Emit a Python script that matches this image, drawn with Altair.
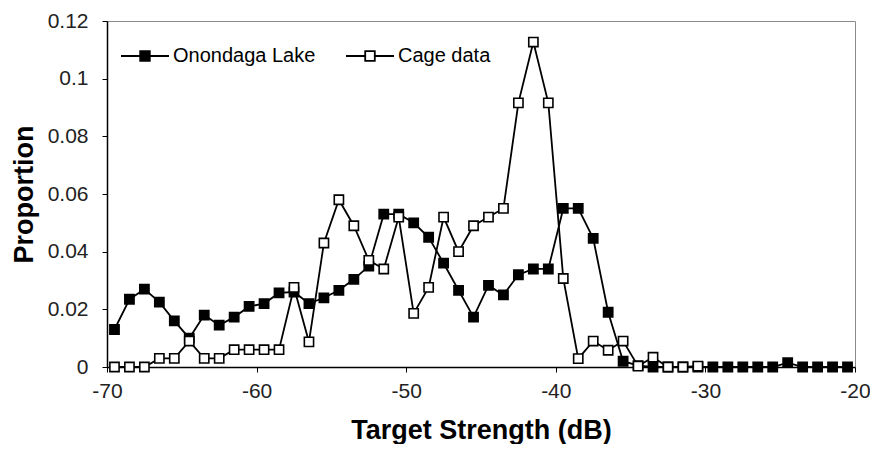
import altair as alt
import pandas as pd

# Bin centres (dB)
ts = [-69.5, -68.5, -67.5, -66.5, -65.5, -64.5, -63.5, -62.5, -61.5, -60.5,
      -59.5, -58.5, -57.5, -56.5, -55.5, -54.5, -53.5, -52.5, -51.5, -50.5,
      -49.5, -48.5, -47.5, -46.5, -45.5, -44.5, -43.5, -42.5, -41.5, -40.5,
      -39.5, -38.5, -37.5, -36.5, -35.5, -34.5, -33.5, -32.5, -31.5, -30.5,
      -29.5, -28.5, -27.5, -26.5, -25.5, -24.5, -23.5, -22.5, -21.5, -20.5]

onondaga = [0.013, 0.0235, 0.027, 0.0225, 0.016, 0.010, 0.018, 0.0145, 0.0173, 0.021,
            0.022, 0.0257, 0.026, 0.022, 0.024, 0.0266, 0.0304, 0.035, 0.053, 0.053,
            0.050, 0.045, 0.036, 0.0266, 0.0173, 0.0283, 0.025, 0.032, 0.034, 0.034,
            0.055, 0.055, 0.0446, 0.019, 0.002, 0.0005, 0.0, 0.0, 0.0, 0.0,
            0.0, 0.0, 0.0, 0.0, 0.0, 0.0015, 0.0, 0.0, 0.0, 0.0]

cage = [0.0, 0.0, 0.0, 0.003, 0.003, 0.009, 0.003, 0.003, 0.006, 0.006,
        0.006, 0.006, 0.0276, 0.0087, 0.043, 0.058, 0.049, 0.037, 0.034, 0.052,
        0.0186, 0.0276, 0.052, 0.040, 0.049, 0.052, 0.055, 0.0916, 0.1127, 0.0916,
        0.0307, 0.0029, 0.009, 0.0058, 0.009, 0.0003, 0.0034, 0.0, 0.0, 0.0003]

series_names = ["Onondaga Lake", "Cage data"]
series_fill = ["black", "white"]

rows = []
for i, v in enumerate(onondaga):
    rows.append({"ts": ts[i], "p": v, "series": series_names[0], "order": i})
for i, v in enumerate(cage):
    rows.append({"ts": ts[i], "p": v, "series": series_names[1], "order": i})
df = pd.DataFrame(rows)

x_enc = alt.X("ts:Q", scale=alt.Scale(domain=[-70, -20], nice=False),
              axis=alt.Axis(title="Target Strength (dB)", values=[-70, -60, -50, -40, -30, -20],
                            labelExpr="'' + datum.value", labelPadding=8, titlePadding=16,
                            labelFlush=False))
y_enc = alt.Y("p:Q", scale=alt.Scale(domain=[0, 0.12], nice=False),
              axis=alt.Axis(title="Proportion", values=[0, 0.02, 0.04, 0.06, 0.08, 0.1, 0.12],
                            format=".2~f", labelPadding=14, titlePadding=9))

fill_scale = alt.Scale(domain=series_names, range=series_fill)

legend_symbol = ("M-1,0L-0.2,0M0.2,0L1,0"
                 "M-0.2,-0.2L0.2,-0.2L0.2,0.2L-0.2,0.2Z")

legend = alt.Legend(
    title=None, orient="none", legendX=13, legendY=10, direction="horizontal",
    symbolType=legend_symbol, symbolSize=2304, symbolStrokeWidth=1.8,
    symbolStrokeColor="black", labelFontSize=20, labelFont="Liberation Sans",
    labelColor="black", labelOffset=3, columnPadding=26, padding=0, symbolOpacity=1,
)

base = alt.Chart(df)

layers = []
for idx, name in enumerate(series_names):
    sub = base.transform_filter(alt.datum.series == name)
    line = sub.mark_line(color="black", strokeWidth=1.8).encode(
        x=x_enc, y=y_enc, order="order:Q")
    pts = sub.mark_point(shape="square", filled=True, size=85, stroke="black",
                         strokeWidth=1.6, opacity=1).encode(
        x=x_enc, y=y_enc, fill=alt.value(series_fill[idx]))
    layers += [line, pts]

# Legend-only layer (no rows drawn) so the legend can use a line+square symbol
legend_layer = base.transform_filter("datum.p < 0").mark_point(
    filled=True, stroke="black", strokeWidth=1.8, opacity=1).encode(
    x=x_enc, y=y_enc,
    fill=alt.Fill("series:N", scale=fill_scale, legend=legend))
layers.append(legend_layer)

chart = alt.layer(*layers).properties(
    width=748, height=346,
    padding={"left": 99, "top": 13, "right": 15, "bottom": 77},
    autosize=alt.AutoSizeParams(type="none"),
).configure_view(
    stroke="#8c8c8c", strokeWidth=1
).configure_axis(
    grid=False, domainColor="black", domainWidth=1.5, tickColor="black", tickWidth=1,
    tickSize=5, labelFont="Liberation Sans", labelFontSize=21, labelColor="#222222",
    titleFont="Liberation Sans", titleFontSize=27, titleFontWeight="bold", titleColor="black"
)

chart.save("out.html", embed_options={"renderer": "svg", "actions": False})
